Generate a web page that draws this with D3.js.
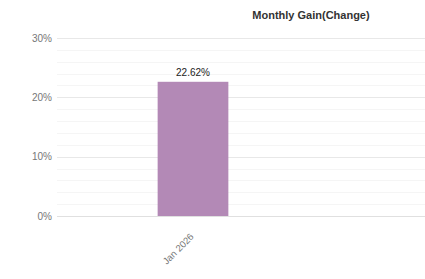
<!DOCTYPE html>
<html>
<head>
<meta charset="utf-8">
<script src="https://cdn.jsdelivr.net/npm/d3@7"></script>
<style>
  body { margin: 0; background: #fff; }
  svg { display: block; font-family: "Liberation Sans", Arial, sans-serif; }
</style>
</head>
<body>
<svg id="chart" width="425" height="279"></svg>
<script>
var months = ['Jan 2026'];
var gains = [22.62];
var y_ticks = [0, 10, 20, 30];
var minor_ticks = [2, 4, 6, 8, 12, 14, 16, 18, 22, 24, 26, 28];

var svg = d3.select('#chart');
var left = 57, right = 425, band_right = 329;
var top_y = 38, bottom_y = 216;

var x = d3.scaleBand()
    .domain(months)
    .range([left, band_right])
    .paddingInner(0.74)
    .paddingOuter(0.37);

var y = d3.scaleLinear()
    .domain([0, 30])
    .range([bottom_y, top_y]);

// title
svg.append('text')
    .attr('x', 311)
    .attr('y', 19)
    .attr('text-anchor', 'middle')
    .style('font-size', '11px')
    .style('font-weight', 'bold')
    .style('fill', '#333')
    .text('Monthly Gain(Change)');

// minor grid
svg.append('g').selectAll('line')
    .data(minor_ticks)
    .enter().append('line')
    .attr('x1', left).attr('x2', right)
    .attr('y1', function(d) { return Math.round(y(d)) + 0.5; })
    .attr('y2', function(d) { return Math.round(y(d)) + 0.5; })
    .style('stroke', '#f5f5f5');

// major grid
svg.append('g').selectAll('line')
    .data(y_ticks)
    .enter().append('line')
    .attr('x1', left).attr('x2', right)
    .attr('y1', function(d) { return Math.round(y(d)) + 0.5; })
    .attr('y2', function(d) { return Math.round(y(d)) + 0.5; })
    .style('stroke', function(d) { return d === 0 ? '#e0e0e0' : '#e8e8e8'; });

// y labels
var yAxis = d3.axisLeft(y)
    .tickValues(y_ticks)
    .tickSize(0)
    .tickPadding(5)
    .tickFormat(function(d) { return d + '%'; });
var ya = svg.append('g').attr('transform', 'translate(' + left + ',0)').call(yAxis);
ya.select('.domain').remove();
ya.selectAll('text').style('font-size', '10px').style('fill', '#777').style('font-family', '"Liberation Sans", Arial, sans-serif');

// bars
svg.append('g').selectAll('rect')
    .data(gains)
    .enter().append('rect')
    .attr('x', function(d, i) { return x(months[i]); })
    .attr('width', x.bandwidth())
    .attr('y', function(d) { return y(d); })
    .attr('height', function(d) { return y(0) - y(d); })
    .style('fill', '#b389b6');

// value labels
svg.append('g').selectAll('text')
    .data(gains)
    .enter().append('text')
    .attr('x', function(d, i) { return x(months[i]) + x.bandwidth() / 2; })
    .attr('y', function(d) { return y(d) - 6; })
    .attr('text-anchor', 'middle')
    .style('font-size', '10px')
    .style('fill', '#222')
    .text(function(d) { return d.toFixed(2) + '%'; });

// x labels
var xAxis = d3.axisBottom(x).tickSize(0).tickPadding(0);
var xa = svg.append('g').attr('transform', 'translate(0,' + bottom_y + ')').call(xAxis);
xa.select('.domain').remove();
xa.selectAll('.tick text')
    .attr('x', 0)
    .attr('y', 0)
    .attr('transform', 'translate(-1,19) rotate(-45)')
    .attr('text-anchor', 'end')
    .attr('dy', '0.35em')
    .style('font-size', '9.5px')
    .style('fill', '#777')
    .style('font-family', '"Liberation Sans", Arial, sans-serif');
</script>
</body>
</html>
